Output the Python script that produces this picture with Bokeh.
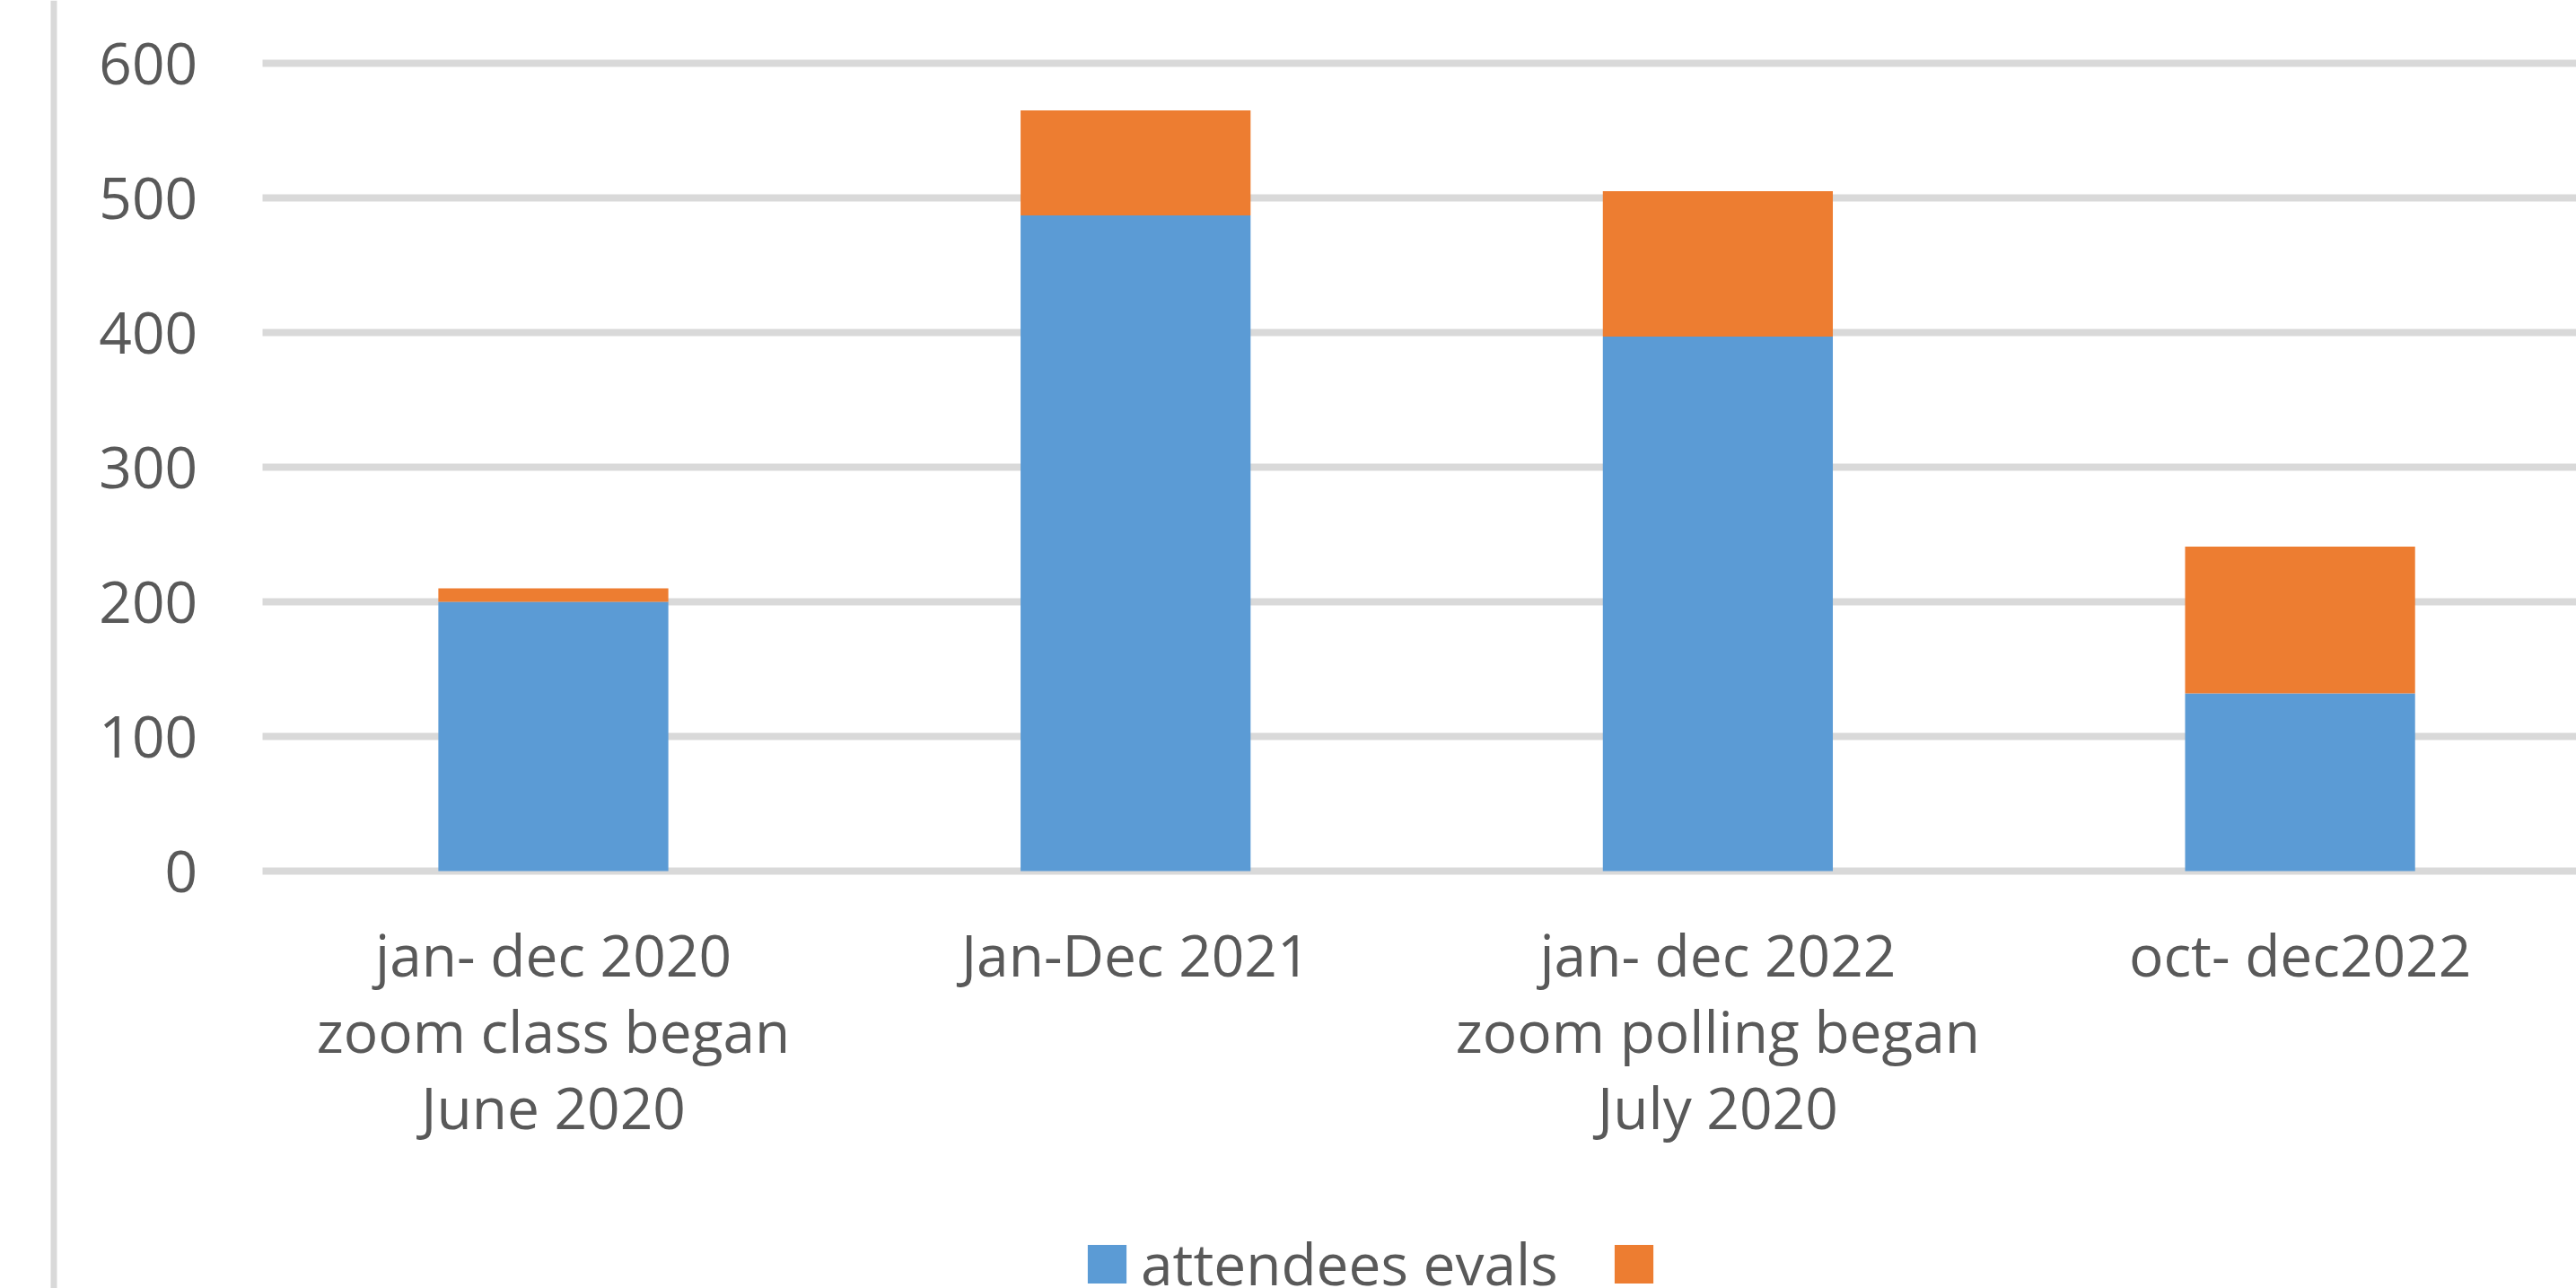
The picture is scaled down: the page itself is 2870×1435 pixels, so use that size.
from bokeh.plotting import figure
from bokeh.models import (ColumnDataSource, Range1d, FixedTicker, Legend, LegendItem, Span)
from bokeh.embed import file_html
from bokeh.resources import INLINE

# ---- data ----
categories = ["jan- dec 2020\nzoom class began\nJune 2020",
              "Jan-Dec 2021",
              "jan- dec 2022\nzoom polling began\nJuly 2020",
              "oct- dec2022"]
attendees_evals = [200, 487, 397, 132]
other_series = [10, 78, 108, 109]
series_labels = ["attendees evals", " "]
y_ticks = [0, 100, 200, 300, 400, 500, 600]

BLUE = "#5B9BD5"
ORANGE = "#ED7D31"
GRID = "#D9D9D9"
TEXT = "#595959"
FONT = "Open Sans"

positions = list(range(len(categories)))
source = ColumnDataSource(data=dict(x=positions, evals=attendees_evals, other=other_series))

W, H = 2870, 1435
# pixel scales: 648.7 px per category, 1.5 px per unit
XS, YS = 648.7, 1.5
X0PX, Y0PX = 616.0, 970.0          # screen position of first category / value 0
x_start, x_end = -X0PX / XS, (W - X0PX) / XS
y_start, y_end = -(H - Y0PX) / YS, Y0PX / YS

p = figure(width=W, height=H, output_backend="svg", toolbar_location=None,
           x_range=Range1d(x_start, x_end), y_range=Range1d(y_start, y_end),
           min_border_left=0, min_border_right=0, min_border_top=0, min_border_bottom=0)
p.background_fill_color = "white"
p.border_fill_color = "white"
p.outline_line_color = None

# grid (restricted to the plot area, which starts half a category left of the first bar)
p.xgrid.grid_line_color = None
grid = p.ygrid[0]
grid.ticker = FixedTicker(ticks=y_ticks)
grid.grid_line_color = GRID
grid.grid_line_width = 8
try:
    grid.cross_bounds = (-0.5, x_end + 1)
except Exception:
    grid.grid_line_color = None
    p.segment(x0=-0.5, x1=x_end + 1, y0=y_ticks, y1=y_ticks, line_color=GRID,
              line_width=8, level="underlay")

rs = p.vbar_stack(["evals", "other"], x="x", width=0.395, color=[BLUE, ORANGE],
                  line_color=None, source=source)

# chart-area left border line
p.add_layout(Span(location=(59.5 - X0PX) / XS, dimension="height",
                  line_color=GRID, line_width=7))

# y axis
p.yaxis.fixed_location = -0.5
p.yaxis.ticker = FixedTicker(ticks=y_ticks)
p.yaxis.axis_line_color = None
p.yaxis.major_tick_line_color = None
p.yaxis.minor_tick_line_color = None
p.yaxis.major_label_standoff = 66
p.yaxis.major_label_text_font = FONT
p.yaxis.major_label_text_font_size = "64px"
p.yaxis.major_label_text_color = TEXT

# x axis
p.xaxis.fixed_location = 0
p.xaxis.ticker = FixedTicker(ticks=positions)
p.xaxis.major_label_overrides = {i: c for i, c in zip(positions, categories)}
p.xaxis.axis_line_color = None
p.xaxis.major_tick_line_color = None
p.xaxis.minor_tick_line_color = None
p.xaxis.major_label_standoff = 43
p.xaxis.major_label_text_font = FONT
p.xaxis.major_label_text_font_size = "64px"
p.xaxis.major_label_text_color = TEXT
p.xaxis.major_label_text_line_height = 0.98

# legend
legend = Legend(items=[LegendItem(label=series_labels[0], renderers=[rs[0]]),
                       LegendItem(label=series_labels[1], renderers=[rs[1]])],
                orientation="horizontal", location=(1206, -16),
                glyph_width=54, glyph_height=54, label_standoff=11, spacing=57,
                padding=0, margin=0, border_line_color=None,
                background_fill_alpha=0,
                label_text_font=FONT, label_text_font_size="64px",
                label_text_color=TEXT)
p.add_layout(legend, "center")

open("out.html", "w").write(file_html(p, INLINE))
